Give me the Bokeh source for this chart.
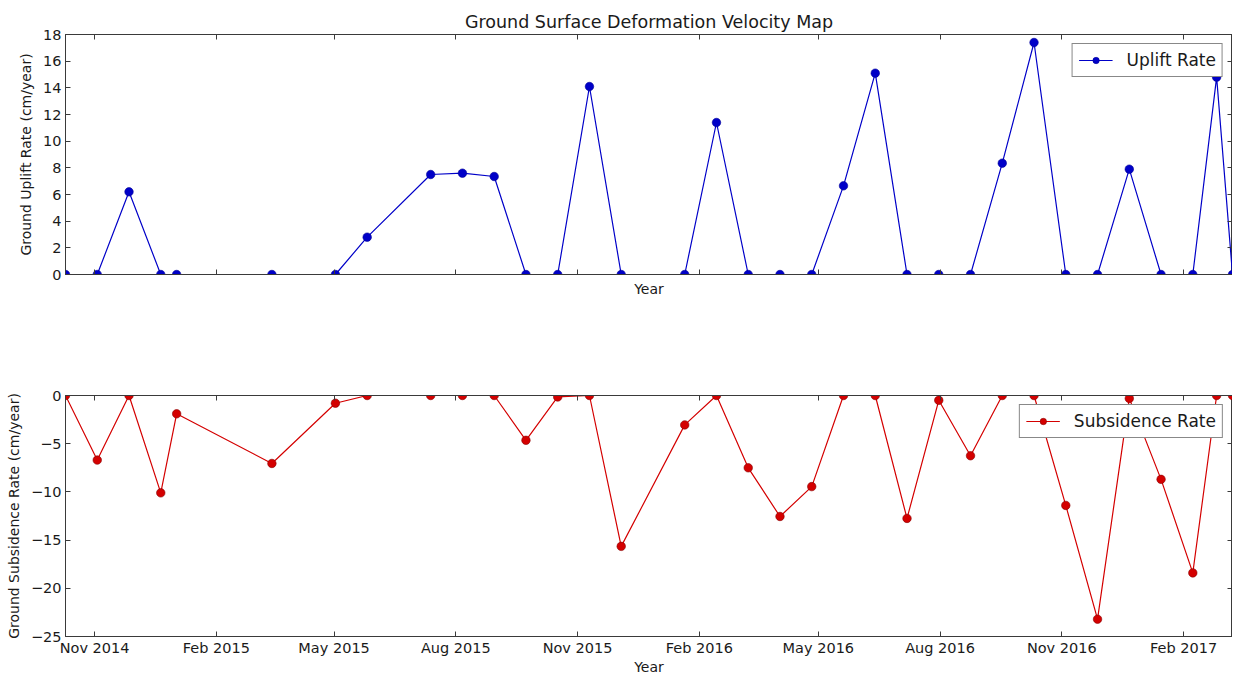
from datetime import datetime
from bokeh.plotting import figure
from bokeh.models import (Range1d, LinearAxis, DatetimeAxis, MonthsTicker,
                          DatetimeTickFormatter, SingleIntervalTicker,
                          CustomJSTickFormatter, Legend, LegendItem)
from bokeh.layouts import column
from bokeh.embed import file_html
from bokeh.resources import INLINE

# ---------------- data ----------------
dates = ["2014-10-10", "2014-11-03", "2014-11-27", "2014-12-21", "2015-01-02",
         "2015-03-15", "2015-05-02", "2015-05-26", "2015-07-13", "2015-08-06",
         "2015-08-30", "2015-09-23", "2015-10-17", "2015-11-10", "2015-12-04",
         "2016-01-21", "2016-02-14", "2016-03-09", "2016-04-02", "2016-04-26",
         "2016-05-20", "2016-06-13", "2016-07-07", "2016-07-31", "2016-08-24",
         "2016-09-17", "2016-10-11", "2016-11-04", "2016-11-28", "2016-12-22",
         "2017-01-15", "2017-02-08", "2017-02-26", "2017-03-10"]
uplift = [0, 0, 6.2, 0, 0, 0, 0, 2.8, 7.5, 7.6, 7.35, 0, 0, 14.1, 0, 0, 11.4,
          0, 0, 0, 6.65, 15.1, 0, 0, 0, 8.35, 17.4, 0, 0, 7.9, 0, 0, 14.8, 0]
subsidence = [0, -6.7, 0, -10.1, -1.9, -7.05, -0.8, 0, 0, 0, 0, -4.65, -0.15,
              0, -15.65, -3.05, 0, -7.5, -12.55, -9.45, 0, 0, -12.75, -0.5,
              -6.25, 0, 0, -11.4, -23.2, -0.3, -8.7, -18.4, 0, 0]
tick_months = [1, 4, 7, 10]  # Feb, May, Aug, Nov (0-based)

title_text = "Ground Surface Deformation Velocity Map"
uplift_label = "Ground Uplift Rate (cm/year)"
subs_label = "Ground Subsidence Rate (cm/year)"
x_label = "Year"

x = [datetime.strptime(d, "%Y-%m-%d") for d in dates]

FONT = "DejaVu Sans"
TXT = "#1a1a1a"
FRAME = "#3a3a3a"
BLUE = "#0000c8"
RED = "#d40000"

x_range = Range1d(start=x[0], end=x[-1])

minus_fmt = CustomJSTickFormatter(
    code="return tick < 0 ? '\u2212' + (-tick) : '' + tick;")
blank_fmt = CustomJSTickFormatter(code="return '';")


def style_axis(ax, labels=True):
    ax.major_tick_in = 5
    ax.major_tick_out = 0
    ax.minor_tick_in = 0
    ax.minor_tick_out = 0
    ax.axis_line_color = FRAME
    ax.major_tick_line_color = FRAME
    ax.major_label_text_font = FONT
    ax.major_label_text_font_size = "14.5px"
    ax.major_label_text_color = TXT
    ax.axis_label_text_font = FONT
    ax.axis_label_text_font_size = "14px"
    ax.axis_label_text_font_style = "normal"
    ax.axis_label_text_color = TXT
    if not labels:
        ax.major_label_standoff = 0
        ax.major_label_text_font_size = "1px"


def make_fig(height, y0, y1, interval, top_border, bottom_border):
    p = figure(width=1232, height=height, x_axis_type=None, y_axis_type=None,
               x_range=x_range, y_range=Range1d(y0, y1),
               output_backend="svg", toolbar_location=None,
               min_border_left=65, min_border_right=0,
               min_border_top=top_border, min_border_bottom=bottom_border)
    p.xgrid.visible = False
    p.ygrid.visible = False
    p.outline_line_color = FRAME
    p.outline_line_width = 1
    p.background_fill_color = "white"
    p.border_fill_color = "white"

    yticker = SingleIntervalTicker(interval=interval)
    yl = LinearAxis(ticker=yticker, formatter=minus_fmt)
    style_axis(yl)
    yl.major_label_standoff = 4
    yl.axis_label_standoff = 6
    p.add_layout(yl, "left")
    yr = LinearAxis(ticker=yticker, formatter=blank_fmt)
    style_axis(yr, labels=False)
    p.add_layout(yr, "right")

    xticker = MonthsTicker(months=tick_months)
    xa = DatetimeAxis(ticker=xticker, formatter=blank_fmt)
    style_axis(xa, labels=False)
    p.add_layout(xa, "above")
    return p, yl, xticker


# ---------------- top: uplift ----------------
p1, y1ax, xt1 = make_fig(318, 0, 18, 2, 34, 44)
y1ax.axis_label = uplift_label
xb1 = DatetimeAxis(ticker=xt1, formatter=blank_fmt)
style_axis(xb1, labels=False)
xb1.axis_label = x_label
xb1.axis_label_standoff = 6
p1.add_layout(xb1, "below")

p1.title.text = title_text
p1.title.align = "center"
p1.title.text_font = FONT
p1.title.text_font_size = "17.5px"
p1.title.text_font_style = "normal"
p1.title.text_color = TXT
p1.title.standoff = 6

l1 = p1.line(x, uplift, line_color=BLUE, line_width=1.2)
s1 = p1.scatter(x, uplift, size=8.5, fill_color=BLUE, line_color="#000099",
                line_width=0.6)
leg1 = Legend(items=[LegendItem(label="Uplift Rate", renderers=[l1, s1])],
              location="top_right")
p1.add_layout(leg1)

# ---------------- bottom: subsidence ----------------
p2, y2ax, xt2 = make_fig(359, -25, 0, 5, 77, 41)
y2ax.axis_label = subs_label
xb2 = DatetimeAxis(ticker=xt2, formatter=DatetimeTickFormatter(months="%b %Y"))
style_axis(xb2)
xb2.major_label_standoff = 3
xb2.axis_label = x_label
xb2.axis_label_standoff = 0
p2.add_layout(xb2, "below")

l2 = p2.line(x, subsidence, line_color=RED, line_width=1.2)
s2 = p2.scatter(x, subsidence, size=8.5, fill_color=RED, line_color="#880000",
                line_width=0.6)
leg2 = Legend(items=[LegendItem(label="Subsidence Rate", renderers=[l2, s2])],
              location="top_right")
p2.add_layout(leg2)

for lg in (leg1, leg2):
    lg.label_text_font = FONT
    lg.label_text_font_size = "17px"
    lg.label_text_color = TXT
    lg.border_line_color = "#111111"
    lg.border_line_width = 1
    lg.background_fill_alpha = 1
    lg.glyph_width = 34
    lg.glyph_height = 16
    lg.margin = 9
    lg.padding = 6
    lg.label_standoff = 14
    lg.spacing = 0

layout = column(p1, p2, spacing=0)
open("out.html", "w").write(file_html(layout, INLINE))
